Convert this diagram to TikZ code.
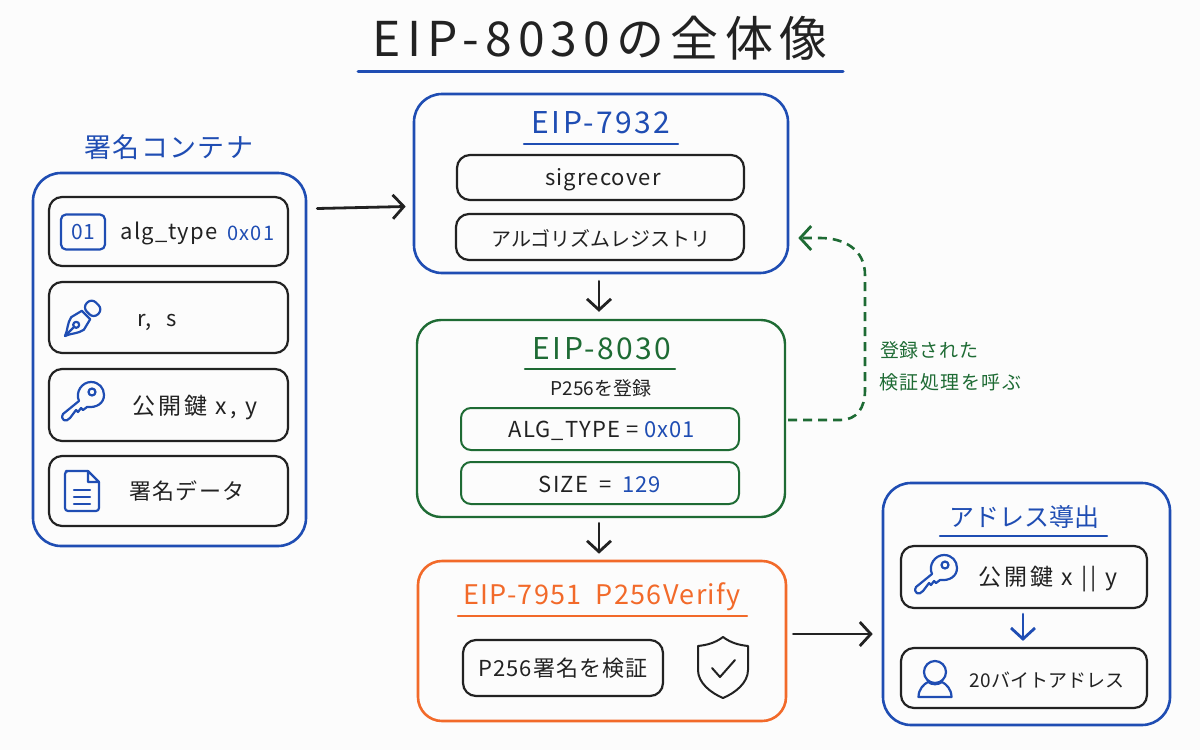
\documentclass[tikz,border=0pt]{standalone}
\usepackage{fontspec}
\setmainfont{Noto Sans CJK JP}
\usetikzlibrary{arrows.meta}
\definecolor{cblue}{HTML}{1F4DB3}
\definecolor{cgreen}{HTML}{1E6B34}
\definecolor{corange}{HTML}{F26A2A}
\definecolor{cink}{HTML}{222222}
\newcommand{\fs}[1]{\fontsize{#1}{#1}\selectfont}
\tikzset{
  x=1pt,y=-1pt,
  rbox/.style={draw,rounded corners=#1,fill=none,inner sep=0pt,anchor=center},
  outerblue/.style={rbox=28pt,cblue,line width=2.6pt},
  outergreen/.style={rbox=24pt,cgreen,line width=2.4pt},
  outerorange/.style={rbox=24pt,corange,line width=2.6pt},
  itembox/.style={rbox=13pt,cink,line width=2.2pt},
  greenitem/.style={rbox=10pt,cgreen,line width=2pt},
  lbl/.style={text=cink,inner sep=0pt,font=\fs{22}\addfontfeatures{LetterSpace=5}},
  lblwide/.style={text=cink,inner sep=0pt,font=\fs{23}\addfontfeatures{LetterSpace=13}},
  lblkana/.style={text=cink,inner sep=0pt,font=\fs{20}},
  head/.style={inner sep=0pt,font=\fs{27}\addfontfeatures{LetterSpace=5}},
  headwide/.style={inner sep=0pt,font=\fs{30}\addfontfeatures{LetterSpace=8}},
  arr/.style={draw=cink,line width=2.8pt,line cap=round,-{Straight Barb[length=11pt,width=24pt,line width=2.8pt]}},
  rule/.style={line width=2.4pt,line cap=round},
  ico/.style={draw=cblue,line width=2.2pt,line join=round,line cap=round},
  note/.style={anchor=west,inner sep=0pt,text=cgreen},
  pics/keyicon/.style={code={
    \draw[ico] (-11,6) .. controls (-15,-3) and (-8,-13) .. (1,-13) .. controls (9,-13) and (14,-7) .. (14,0) .. controls (14,8) and (7,13) .. (-3,12) -- (-7,15) -- (-9,13) -- (-12,17) -- (-14,15) -- (-20,23) .. controls (-24,28) and (-30,25) .. (-27,19) -- cycle;
    \draw[ico] (2,-3) circle[radius=3.5pt];
  }},
}
\begin{document}
\begin{tikzpicture}
\useasboundingbox (0,0) rectangle (1200,750);
\fill[white!99!black] (0,0) rectangle (1200,750);
% title
\node[inner sep=0pt,text=cink,font=\fs{48}\addfontfeatures{LetterSpace=13}] (title) at (600,38) {EIP-8030の全体像};
\draw[rule,cblue,line width=3pt] ([yshift=-33pt,xshift=-242pt]title.center) -- ([yshift=-33pt,xshift=243pt]title.center);
% container
\node[head,text=cblue] (ctitle) at (169,147) {署名コンテナ};
\node[outerblue,minimum width=273pt,minimum height=373pt] (cont) at (169.5,359.5) {};
\node[itembox,minimum width=239pt,minimum height=69pt] (c1) at (168.5,231.5) {};
\node[itembox,minimum width=239pt,minimum height=71pt] (c2) at (168.5,317.5) {};
\node[itembox,minimum width=239pt,minimum height=72pt] (c3) at (168.5,405) {};
\node[itembox,minimum width=239pt,minimum height=70pt] (c4) at (168.5,491) {};
\node[rbox=5pt,cblue,line width=2.2pt,minimum width=44pt,minimum height=35pt,font=\fs{21}] (ic1) at (83,232) {01};
\node[lbl] (t1a) at (169,233) {alg\_type};
\node[inner sep=0pt,text=cblue,font=\fs{20}\addfontfeatures{LetterSpace=5}] (t1b) at (251,233) {0x01};
\node[lbl] (t2) at (157,322) {r,\hspace{15pt}s};
\node[lblwide] (t3) at (195,408) {公開鍵 x, y};
\node[lbl] (t4) at (187,491) {署名データ};
% pen icon
\begin{scope}[shift={(65,336)}]
\draw[ico] (0,0) .. controls (3,-6) and (2,-13) .. (6.3,-18.9) -- (16.8,-25.2) -- (25.2,-16.8) -- (18.9,-6.3) .. controls (13,-2) and (6,-3) .. (0,0) -- cycle;
\draw[ico] (0,0) -- (9,-9);
\draw[ico] (11.2,-11.2) circle[radius=3pt];
\draw[ico,rounded corners=6pt] (17.5,-28.7) -- (26.6,-37.8) -- (37.8,-26.6) -- (28.7,-17.5) -- cycle;
\end{scope}
\pic at (90,395) {keyicon};
% doc icon
\draw[ico,rounded corners=3pt] (88,471) -- (69,471) -- (65,471) -- (65,511) -- (99,511) -- (99,482);
\draw[ico] (88,471) -- (99,482) -- (88,482) -- cycle;
\draw[ico] (74,490) -- (90,490) (74,497) -- (90,497) (74,504) -- (90,504);
% EIP-7932
\node[outerblue,minimum width=374pt,minimum height=179pt] (a) at (601,183.5) {};
\node[headwide,text=cblue] (ah) at (601,123) {EIP-7932};
\draw[rule,cblue] ([yshift=-21pt,xshift=-77pt]ah.center) -- ([yshift=-21pt,xshift=77pt]ah.center);
\node[itembox,minimum width=287pt,minimum height=45pt] (a1) at (600.5,177.5) {};
\node[lbl] (a1t) at (603,180) {sigrecover};
\node[itembox,minimum width=288pt,minimum height=46pt] (a2) at (600,237) {};
\node[lblkana] (a2t) at (601,238) {アルゴリズムレジストリ};
% EIP-8030
\node[outergreen,minimum width=368pt,minimum height=197pt] (b) at (601,418.5) {};
\node[headwide,text=cgreen] (bh) at (602,349) {EIP-8030};
\draw[rule,cgreen] ([yshift=-20pt,xshift=-77pt]bh.center) -- ([yshift=-20pt,xshift=73pt]bh.center);
\node[inner sep=0pt,text=cink,font=\fs{19}] (bs) at (601,388) {P256を登録};
\node[greenitem,minimum width=278pt,minimum height=42pt] (b1) at (600,429) {};
\node[lbl] (b1t) at (602,431) {ALG\_TYPE = \textcolor{cblue}{0x01}};
\node[greenitem,minimum width=278pt,minimum height=42pt] (b2) at (600,483) {};
\node[lbl] (b2t) at (600,484) {SIZE\hspace{5pt} = \hspace{5pt}\textcolor{cblue}{129}};
% EIP-7951
\node[outerorange,minimum width=368pt,minimum height=160pt] (o) at (602,641) {};
\node[head,text=corange] (oh) at (602,597) {EIP-7951\hspace{14pt}P256Verify};
\draw[rule,corange] ([yshift=-19pt,xshift=-144pt]oh.center) -- ([yshift=-19pt,xshift=145pt]oh.center);
\node[itembox,minimum width=200pt,minimum height=56pt] (o1) at (563,668) {};
\node[lbl] (o1t) at (563,668) {P256署名を検証};
% shield
\begin{scope}[shift={(723,667)}]
\draw[draw=cink,line width=2pt,line join=round] (0,-30) .. controls (8,-24) and (16,-22) .. (25,-21) -- (25,3) .. controls (25,16) and (12,26) .. (0,31) .. controls (-12,26) and (-25,16) .. (-25,3) -- (-25,-21) .. controls (-16,-22) and (-8,-24) .. (0,-30) -- cycle;
\draw[draw=cink,line width=2pt,line cap=round,line join=round] (-11,1) -- (-3,10) -- (12,-7);
\end{scope}
% address
\node[outerblue,minimum width=287pt,minimum height=242pt] (d) at (1026.5,604) {};
\node[inner sep=0pt,text=cblue,font=\fs{25}] (dh) at (1024,517) {アドレス導出};
\draw[rule,cblue] ([yshift=-19pt,xshift=-84pt]dh.center) -- ([yshift=-19pt,xshift=83pt]dh.center);
\node[itembox,minimum width=246pt,minimum height=62pt] (d1) at (1024,577) {};
\node[itembox,minimum width=246pt,minimum height=60pt] (d2) at (1024,678) {};
\pic at (943,568) {keyicon};
\node[lblwide] (d1t) at (1048,579) {公開鍵 x || y};
\node[inner sep=0pt,text=cink,font=\fs{19}] (d2t) at (1047,680) {20バイトアドレス};
% user icon
\draw[ico] (935,672) circle[radius=11pt];
\draw[ico] (918.5,697) .. controls (918.5,689) and (924,684) .. (928,682) .. controls (932,685) and (938,685) .. (942,682) .. controls (946,684) and (951.5,689) .. (951.5,697) -- cycle;
% arrows
\draw[arr] ([xshift=10pt,yshift=151pt]cont.east) -- ([xshift=-7pt,yshift=-23pt]a.west);
\draw[arr] ([xshift=-2pt,yshift=-7pt]a.south) -- ([xshift=-2pt,yshift=7pt]b.north);
\draw[arr] ([xshift=-2pt,yshift=-5pt]b.south) -- ([xshift=-3pt,yshift=6pt]o.north);
\draw[arr] ([xshift=6pt,yshift=7pt]o.east) -- ([xshift=-9pt,yshift=-30pt]d.west);
\draw[arr,draw=cblue] ([yshift=-5pt,xshift=-1pt]d1.south) -- ([yshift=6pt,xshift=-1pt]d2.north);
\draw[cgreen,line width=2.6pt,dash pattern=on 9pt off 6pt,-{Straight Barb[length=11pt,width=24pt,line width=2.8pt,sep=0pt]}]
  ([xshift=2pt,yshift=-1.5pt]b.east) -- (840,420) .. controls (857,420) and (865,408) .. (865,390) -- (865,275) .. controls (865,250) and (845,238) .. (820,238) -- ([xshift=9pt,yshift=-54.5pt]a.east);
\node[note,font=\fs{19}\addfontfeatures{LetterSpace=4}] (n1) at (880,350) {登録された};
\node[note,font=\fs{19}\addfontfeatures{LetterSpace=8}] (n2) at (879,382) {検証処理を呼ぶ};
\end{tikzpicture}
\end{document}
